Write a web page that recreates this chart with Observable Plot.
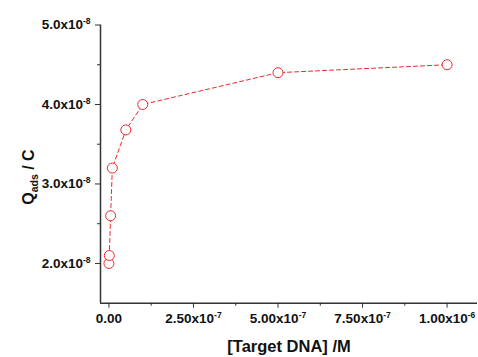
<!DOCTYPE html>
<html><head><meta charset="utf-8">
<script src="https://cdn.jsdelivr.net/npm/d3@7"></script>
<script src="https://cdn.jsdelivr.net/npm/@observablehq/plot@0.6"></script>
<style>
html,body{margin:0;padding:0;background:#fff;}
</style>
</head><body>
<div id="chart"></div>
<script>
const concentration = [0, 1e-9, 5e-9, 1e-8, 5e-8, 1e-7, 5e-7, 1e-6];
const qads = [2.0e-8, 2.1e-8, 2.6e-8, 3.2e-8, 3.68e-8, 4.0e-8, 4.4e-8, 4.5e-8];
const xTicks = [0, 2.5e-7, 5e-7, 7.5e-7, 1e-6];
const xTickLabels = ["0.00", "2.50x10^-7", "5.00x10^-7", "7.50x10^-7", "1.00x10^-6"];
const xMinor = [1.25e-7, 3.75e-7, 6.25e-7, 8.75e-7];
const yTicks = [2e-8, 3e-8, 4e-8, 5e-8];
const yTickLabels = ["2.0x10^-8", "3.0x10^-8", "4.0x10^-8", "5.0x10^-8"];
const yMinor = [2.5e-8, 3.5e-8, 4.5e-8];
const xTitle = "[Target DNA] /M";
const yTitle = "Q_ads / C";

const data = concentration.map((c, i) => ({x: c, y: qads[i]}));
const xMap = new Map(xTicks.map((t, i) => [t, xTickLabels[i]]));
const yMap = new Map(yTicks.map((t, i) => [t, yTickLabels[i]]));
const axisColor = "#333";
const red = "#f0262b";

const plot = Plot.plot({
  width: 478, height: 357,
  marginLeft: 100, marginRight: 1, marginTop: 24.5, marginBottom: 54.3,
  style: {fontFamily: "'Liberation Sans', Arial, sans-serif", fontWeight: "bold", fontSize: "14px", color: "#111", background: "#fff"},
  x: {domain: [-2.5e-8, 1.09e-6]},
  y: {domain: [1.5e-8, 5.0e-8]},
  marks: [
    Plot.ruleX([-2.5e-8], {stroke: axisColor, strokeWidth: 1.5}),
    Plot.ruleY([1.5e-8], {stroke: axisColor, strokeWidth: 1.5}),
    Plot.axisX({ticks: xTicks, tickSize: 5, tickPadding: 5, fontSize: 14, stroke: axisColor, tickFormat: d => xMap.get(d), label: xTitle, labelAnchor: "center", labelArrow: "none", labelOffset: 49}),
    Plot.axisX({ticks: xMinor, tickSize: 3, stroke: axisColor, tickFormat: () => "", label: null}),
    Plot.axisY({ticks: yTicks, tickSize: 5, tickPadding: 5, fontSize: 14, stroke: axisColor, tickFormat: d => yMap.get(d), label: yTitle, labelAnchor: "center", labelArrow: "none", labelOffset: 78}),
    Plot.axisY({ticks: yMinor, tickSize: 3, stroke: axisColor, tickFormat: () => "", label: null}),
    Plot.line(data, {x: "x", y: "y", stroke: red, strokeWidth: 1, strokeDasharray: "4,3"}),
    Plot.dot(data, {x: "x", y: "y", r: 5, stroke: red, strokeWidth: 1, fill: "#fff"})
  ]
});

const ns = "http://www.w3.org/2000/svg";
plot.querySelectorAll("text").forEach(t => {
  const s = t.textContent;
  if (s.includes("^")) {
    const [base, sup] = s.split("^");
    t.textContent = base;
    t.setAttribute("font-size", "13.5");
    const ts = document.createElementNS(ns, "tspan");
    ts.setAttribute("dy", "-5");
    ts.setAttribute("font-size", "8.5");
    ts.textContent = sup;
    t.appendChild(ts);
  } else if (s.includes("_")) {
    const [base, rest] = s.split("_");
    const [sub, ...after] = rest.split(" ");
    t.textContent = base;
    t.setAttribute("font-size", "16");
    t.setAttribute("dx", "-13");
    const ts = document.createElementNS(ns, "tspan");
    ts.setAttribute("dy", "4");
    ts.setAttribute("font-size", "10.5");
    ts.textContent = sub;
    const ts2 = document.createElementNS(ns, "tspan");
    ts2.setAttribute("dy", "-4");
    ts2.textContent = " " + after.join(" ");
    t.appendChild(ts); t.appendChild(ts2);
  } else if (s === xTitle) {
    t.setAttribute("font-size", "16.5");
  } else if (s === "0.00") {
    t.setAttribute("font-size", "13.5");
  }
});
document.getElementById("chart").appendChild(plot);
</script>
</body></html>
